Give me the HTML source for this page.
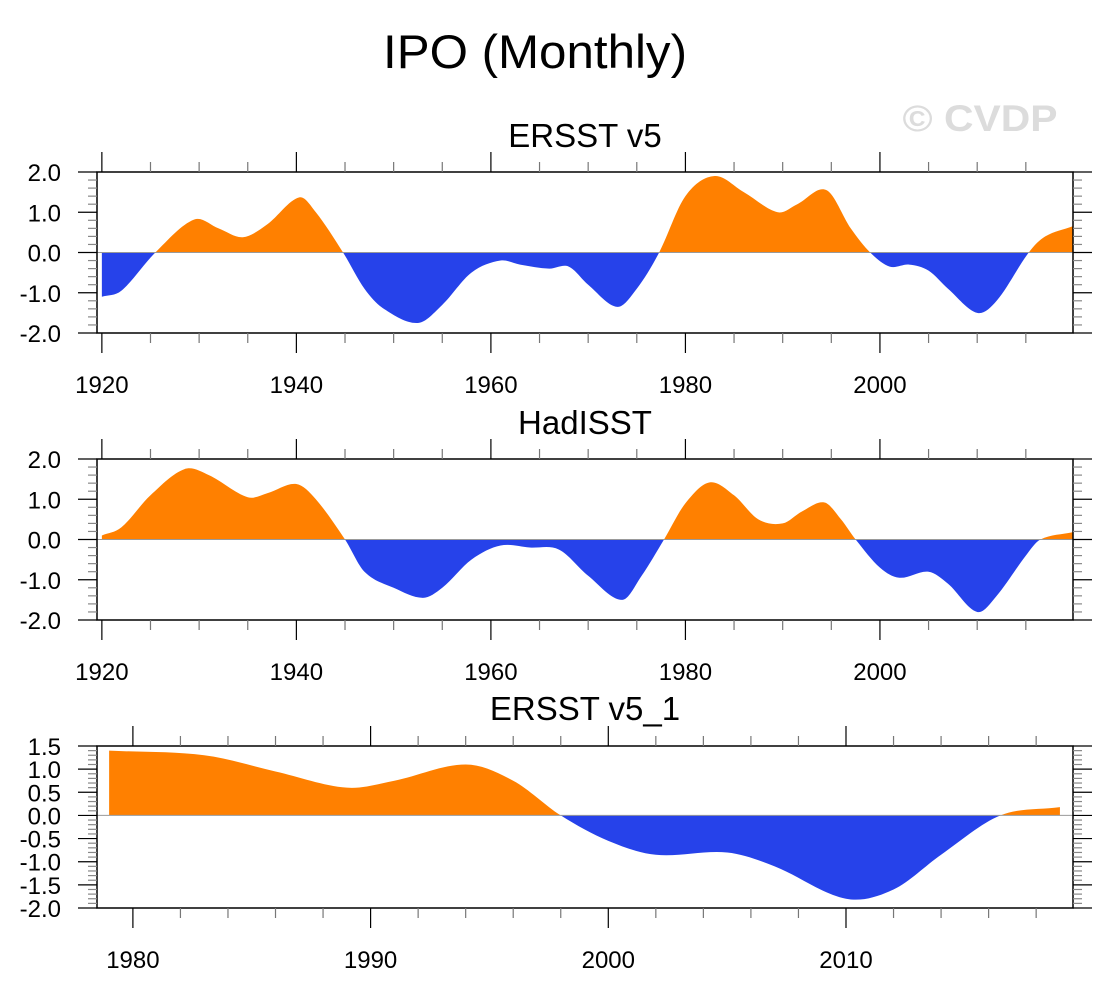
<!DOCTYPE html>
<html><head><meta charset="utf-8"><style>
html,body{margin:0;padding:0;background:#fff;}
svg{display:block;font-family:"Liberation Sans",sans-serif;}
</style></head><body>
<svg id="chart" width="1108" height="997" xmlns="http://www.w3.org/2000/svg">
<text x="535" y="68" font-size="47" text-anchor="middle" textLength="304" lengthAdjust="spacingAndGlyphs">IPO (Monthly)</text>
<text x="980" y="131" font-size="37" font-weight="bold" fill="#dcdcdc" text-anchor="middle" textLength="155" lengthAdjust="spacingAndGlyphs">© CVDP</text>
</svg>
<script>
// ERSST v5 series
const ersstYears = [1920,1922,1925.5,1929.5,1932,1934.5,1937,1940.3,1942,1944.8,1947,1949,1952.5,1955,1958,1961,1963,1966,1968,1970,1973,1975,1977.3,1980,1983,1986,1989.5,1991.5,1994.5,1997,1999,2001,2003,2005,2007,2010,2012,2015.3,2017,2019.8];
const ersstValues = [-1.1,-0.95,0,0.82,0.6,0.38,0.7,1.37,1.0,0,-0.9,-1.4,-1.75,-1.3,-0.5,-0.2,-0.3,-0.4,-0.35,-0.8,-1.35,-0.9,0,1.4,1.9,1.5,1.0,1.2,1.55,0.6,0,-0.35,-0.3,-0.45,-0.9,-1.5,-1.2,0,0.4,0.65];
// HadISST series
const hadYears = [1920,1922,1925,1928.5,1931,1935,1937,1940,1942,1945,1947,1950,1953,1955,1958,1961,1964,1967,1970,1973.5,1975.5,1977.8,1980,1982.5,1985,1987.5,1990,1992,1994.3,1996,1997.5,2000,2002,2005,2007,2010,2012,2015,2016.5,2019.8];
const hadValues = [0.1,0.3,1.1,1.75,1.6,1.05,1.15,1.38,1.0,0,-0.8,-1.2,-1.45,-1.2,-0.5,-0.15,-0.2,-0.25,-0.9,-1.5,-0.9,0,0.9,1.42,1.1,0.5,0.4,0.7,0.92,0.5,0,-0.7,-0.95,-0.8,-1.1,-1.8,-1.4,-0.4,0,0.18];
// ERSST v5_1 series
const e1Years = [1979,1983,1986,1989,1991,1994,1996,1998,2000,2002,2005,2007,2010,2012,2014,2016.5,2019];
const e1Values = [1.4,1.3,0.95,0.6,0.75,1.1,0.75,0,-0.55,-0.85,-0.8,-1.1,-1.8,-1.6,-0.85,0,0.18];
// tick labels
const yTicks12 = [2,1,0,-1,-2];
const yLabels12 = ["2.0","1.0","0.0","-1.0","-2.0"];
const xTicks12 = [1920,1940,1960,1980,2000];
const yTicks3 = [1.5,1,0.5,0,-0.5,-1,-1.5,-2];
const yLabels3 = ["1.5","1.0","0.5","0.0","-0.5","-1.0","-1.5","-2.0"];
const xTicks3 = [1980,1990,2000,2010];

const NS="http://www.w3.org/2000/svg";
const svg=document.getElementById('chart');
function mk(tag,attrs,parent){const e=document.createElementNS(NS,tag);for(const k in attrs)e.setAttribute(k,attrs[k]);(parent||svg).appendChild(e);return e;}

const panels=[
 {id:'ersst',title:'ERSST v5',tx:585,ty:147,top:172,bot:333,x0:1919.5,x1:2019.85,y0:-2,y1:2,xs:ersstYears,vs:ersstValues,yt:yTicks12,yl:yLabels12,ymin:0.2,xt:xTicks12,xmin:5,xmaj:20},
 {id:'hadisst',title:'HadISST',tx:585,ty:434,top:459,bot:620,x0:1919.5,x1:2019.85,y0:-2,y1:2,xs:hadYears,vs:hadValues,yt:yTicks12,yl:yLabels12,ymin:0.2,xt:xTicks12,xmin:5,xmaj:20},
 {id:'ersst1',title:'ERSST v5_1',tx:585,ty:720,top:746,bot:908,x0:1978.49,x1:2019.55,y0:-2,y1:1.5,xs:e1Years,vs:e1Values,yt:yTicks3,yl:yLabels3,ymin:0.1,xt:xTicks3,xmin:2,xmaj:10}
];
const L=97,R=1073;
let ci=0;
panels.forEach(p=>{
 const g=mk('g',{});
 
 
 const sx=v=>L+(v-p.x0)/(p.x1-p.x0)*(R-L);
 const sy=v=>p.bot-(v-p.y0)/(p.y1-p.y0)*(p.bot-p.top);
 const t=mk('text',{x:p.tx,y:p.ty,'font-size':33,'text-anchor':'middle'},g);
 t.textContent=p.title;
 
 
 const pts=p.xs.map((x,i)=>[sx(x),sy(p.vs[i])]);
 const z=sy(0);
 let d='M'+pts[0][0]+','+z+' L'+pts[0][0]+','+pts[0][1];
 for(let i=0;i<pts.length-1;i++){
  const a=pts[Math.max(0,i-1)],b=pts[i],c=pts[i+1],e=pts[Math.min(pts.length-1,i+2)];
  const h=c[0]-b[0];
  const m1=(c[1]-a[1])/((c[0]-a[0])||1), m2=(e[1]-b[1])/((e[0]-b[0])||1);
  const c1=[b[0]+h/3,b[1]+m1*h/3],c2=[c[0]-h/3,c[1]-m2*h/3];
  d+=' C'+c1[0]+','+c1[1]+' '+c2[0]+','+c2[1]+' '+c[0]+','+c[1];
 }
 d+=' L'+pts[pts.length-1][0]+','+z+' Z';
 const id='c'+(ci++);
 const defs=mk('defs',{},g);
 const cpA=mk('clipPath',{id:id+'a'},defs);mk('rect',{x:0,y:0,width:1108,height:z},cpA);
 const cpB=mk('clipPath',{id:id+'b'},defs);mk('rect',{x:0,y:z,width:1108,height:997},cpB);
 const pos=mk('path',{d:d,fill:'#ff8000','clip-path':'url(#'+id+'a)'},g);
 
 
 const neg=mk('path',{d:d,fill:'#2642ea','clip-path':'url(#'+id+'b)'},g);
 
 
 mk('line',{x1:L,x2:R,y1:z,y2:z,stroke:'#999','stroke-width':1},g);
 mk('rect',{x:L,y:p.top,width:R-L,height:p.bot-p.top,fill:'none',stroke:'#000','stroke-width':1.5},g);
 for(let k=0;;k++){
  const v=p.y0+k*p.ymin; if(v>p.y1+1e-9)break;
  const y=sy(v);const major=p.yt.some(m=>Math.abs(m-v)<1e-6);
  const len=major?19:9;
  mk('line',{x1:L-len,x2:L,y1:y,y2:y,stroke:major?'#000':'#888','stroke-width':1.2},g);
  mk('line',{x1:R,x2:R+len,y1:y,y2:y,stroke:major?'#000':'#888','stroke-width':1.2},g);
 }
 p.yt.forEach((v,i)=>{
  const tl=mk('text',{x:61,y:sy(v)+9,'font-size':24,'text-anchor':'end'},g);
  tl.textContent=p.yl[i];
  
  
 });
 const start=Math.ceil(p.x0/p.xmin)*p.xmin;
 for(let v=start;v<=p.x1;v+=p.xmin){
  const x=sx(v);const major=(v%p.xmaj===0);
  const len=major?20:10;
  mk('line',{x1:x,x2:x,y1:p.top-len,y2:p.top,stroke:major?'#000':'#777','stroke-width':1.2},g);
  mk('line',{x1:x,x2:x,y1:p.bot,y2:p.bot+len,stroke:major?'#000':'#777','stroke-width':1.2},g);
 }
 p.xt.forEach(v=>{
  const tl=mk('text',{x:sx(v),y:p.bot+60,'font-size':24,'text-anchor':'middle'},g);
  tl.textContent=String(v);
  
  
 });
});
</script>
</body></html>
